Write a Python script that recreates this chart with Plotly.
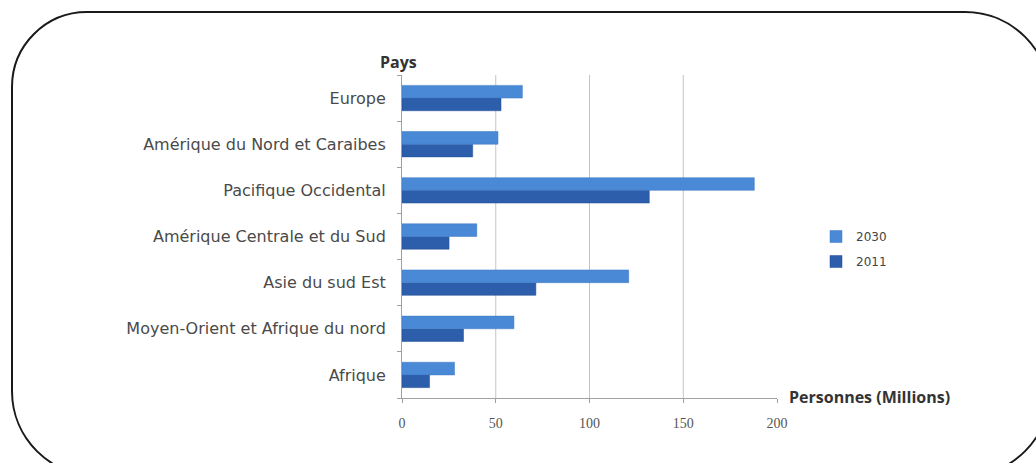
import plotly.graph_objects as go

regions = ["Afrique", "Moyen-Orient et Afrique du nord", "Asie du sud Est",
           "Amérique Centrale et du Sud", "Pacifique Occidental",
           "Amérique du Nord et Caraibes", "Europe"]
v2011 = [14.7, 32.8, 71.4, 25.1, 131.9, 37.7, 52.8]
v2030 = [28.0, 59.7, 120.9, 39.9, 187.9, 51.2, 64.2]
x_ticks = [0, 50, 100, 150, 200]
grid_vals = [50, 100, 150]

W, H = 1036, 463
L, R, T, B = 402, 259, 75, 65
PW, PH = W - L - R, H - T - B

def px(x):
    return (x - L) / PW

def py(y):
    return (H - B - y) / PH

fig = go.Figure()
fig.add_trace(go.Bar(y=regions, x=v2011, name="2011", orientation="h",
                     legendrank=2, legendgroup="g2011",
                     marker=dict(color="#2d5eab", line=dict(color="#234e96", width=0.5))))
fig.add_trace(go.Bar(y=regions, x=v2030, name="2030", orientation="h",
                     legendrank=1, legendgroup="g2030",
                     marker=dict(color="#4a89d6", line=dict(color="#3c78c4", width=0.5))))

shapes = []
for g in grid_vals:
    shapes.append(dict(type="line", xref="x", yref="paper", x0=g, x1=g, y0=0, y1=1,
                       line=dict(color="#c4c4c4", width=1), layer="below"))

# rounded frame around the chart (decorative)
x0, y0, x1, y1 = 12, 12, 1050, 476
rtl, rtr, rbr, rbl = 75, 85, 85, 85
K = 0.5523
pts = [
    f"M{px(x0 + rtl)},{py(y0)}",
    f"L{px(x1 - rtr)},{py(y0)}",
    f"C{px(x1 - rtr + K*rtr)},{py(y0)} {px(x1)},{py(y0 + rtr - K*rtr)} {px(x1)},{py(y0 + rtr)}",
    f"L{px(x1)},{py(y1 - rbr)}",
    f"C{px(x1)},{py(y1 - rbr + K*rbr)} {px(x1 - rbr + K*rbr)},{py(y1)} {px(x1 - rbr)},{py(y1)}",
    f"L{px(x0 + rbl)},{py(y1)}",
    f"C{px(x0 + rbl - K*rbl)},{py(y1)} {px(x0)},{py(y1 - rbl + K*rbl)} {px(x0)},{py(y1 - rbl)}",
    f"L{px(x0)},{py(y0 + rtl)}",
    f"C{px(x0)},{py(y0 + rtl - K*rtl)} {px(x0 + rtl - K*rtl)},{py(y0)} {px(x0 + rtl)},{py(y0)}",
    "Z",
]
shapes.append(dict(type="path", xref="paper", yref="paper", path=" ".join(pts),
                   line=dict(color="#1a1a1a", width=2), fillcolor="rgba(0,0,0,0)"))

fig.update_layout(
    width=W, height=H,
    margin=dict(l=L, r=R, t=T, b=B, pad=0),
    paper_bgcolor="white", plot_bgcolor="white",
    barmode="group", bargap=0.45, bargroupgap=0,
    showlegend=True,
    legend=dict(x=px(816), y=py(249), xanchor="left", yanchor="middle",
                traceorder="grouped", tracegroupgap=6,
                font=dict(family="DejaVu Sans", size=12, color="#444"),
                itemwidth=30, bgcolor="rgba(0,0,0,0)"),
    shapes=shapes,
    xaxis=dict(range=[0, 200], tickvals=x_ticks, showgrid=False, zeroline=False,
               showline=True, linecolor="#a0a0a0", linewidth=1,
               ticks="outside", ticklen=4, tickcolor="#a0a0a0",
               ticklabelstandoff=8,
               tickfont=dict(family="Liberation Serif", size=14, color="#555")),
    yaxis=dict(categoryorder="array", categoryarray=regions, showgrid=False,
               showline=True, linecolor="#a0a0a0", linewidth=1,
               ticks="outside", ticklen=4, tickcolor="#a0a0a0", tickson="boundaries",
               ticklabelstandoff=12,
               tickfont=dict(family="DejaVu Sans", size=16, color="#4a4a4a")),
    annotations=[
        dict(text="<b>Pays</b>", xref="paper", yref="paper", x=px(398), y=py(62),
             xanchor="center", yanchor="middle", showarrow=False,
             font=dict(family="Open Sans", size=16, color="#333")),
        dict(text="<b>Personnes (Millions)</b>", xref="paper", yref="paper", x=px(787), y=py(397),
             xanchor="left", yanchor="middle", showarrow=False,
             font=dict(family="Open Sans", size=16, color="#333")),
    ],
)

fig.write_html("out.html")
